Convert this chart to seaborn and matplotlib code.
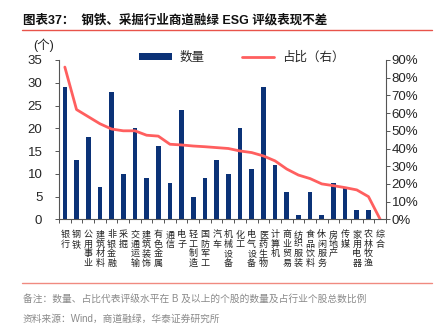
import numpy as np
import pandas as pd
import matplotlib
matplotlib.use("Agg")
import matplotlib.pyplot as plt
import matplotlib.transforms as mtransforms
import seaborn as sns
from matplotlib.patches import Patch
from matplotlib.lines import Line2D
from matplotlib.ticker import PercentFormatter

sns.set_theme(style="white")
plt.rcParams['font.family'] = ['Liberation Sans', 'Noto Sans CJK SC', 'DejaVu Sans']

categories = ["银行", "钢铁", "公用事业", "建筑材料", "非银金融", "采掘", "交通运输",
              "建筑装饰", "有色金属", "通信", "电子", "轻工制造", "国防军工", "汽车",
              "机械设备", "化工", "电气设备", "医药生物", "计算机", "商业贸易",
              "纺织服装", "食品饮料", "休闲服务", "房地产", "传媒", "家用电器",
              "农林牧渔", "综合"]
counts = [29, 13, 18, 7, 28, 10, 20, 9, 16, 8, 24, 5, 9, 13,
          10, 20, 11, 29, 12, 6, 1, 6, 1, 8, 7, 2, 2, 0]
ratios = [0.86, 0.62, 0.58, 0.54, 0.51, 0.50, 0.50, 0.475, 0.47, 0.424, 0.42, 0.414,
          0.41, 0.405, 0.40, 0.386, 0.377, 0.358, 0.33, 0.284, 0.25, 0.23, 0.20,
          0.19, 0.179, 0.166, 0.128, 0.0]
left_ticks = [0, 5, 10, 15, 20, 25, 30, 35]
right_ticks = [0, 0.1, 0.2, 0.3, 0.4, 0.5, 0.6, 0.7, 0.8, 0.9]

BAR = "#0b3277"
LINE = "#ff5f5f"
AXC = "#555555"

df = pd.DataFrame({"行业": categories, "数量": counts, "占比": ratios,
                   "pos": np.arange(len(categories))})

fig = plt.figure(figsize=(4.39, 3.27), dpi=100)
ax = fig.add_axes([59/439, 1-219.3/327, (386-59)/439, (219.3-60)/327])

sns.barplot(data=df, x="pos", y="数量", color=BAR, width=0.4, saturation=1,
            ax=ax, edgecolor="none", native_scale=True)
ax.set_ylim(0, 35)
ax.set_yticks(left_ticks)
ax.set_xlim(-0.5, len(categories)-0.5)
ax.set_xlabel("")
ax.set_ylabel("")

ax2 = ax.twinx()
sns.lineplot(data=df, x="pos", y="占比", color=LINE, linewidth=2, ax=ax2)
ax2.set_ylim(0, 0.9)
ax2.set_yticks(right_ticks)
ax2.yaxis.set_major_formatter(PercentFormatter(1.0, decimals=0))
ax2.set_ylabel("")
ax2.set_xlim(-0.5, len(categories)-0.5)

# category boundary ticks, labels stacked vertically under each category
ax.set_xticks(np.arange(-0.5, len(categories), 1))
ax.set_xticklabels([])
ax.tick_params(axis='x', which='major', length=3, direction='out', color=AXC,
               width=0.7, bottom=True)
trans = mtransforms.blended_transform_factory(ax.transData, ax.transAxes)
for i, name in enumerate(df["行业"]):
    ax.text(df["pos"][i], -0.07, "\n".join(name), transform=trans, ha='center', va='top',
            fontsize=6.5, linespacing=1.05, rotation=0, color="#222222",
            family=['Noto Sans CJK SC'])

ax.tick_params(axis='y', length=3, direction='out', color=AXC, width=0.7, labelsize=9.5, pad=9, left=True)
ax2.tick_params(axis='y', length=3, direction='out', color=AXC, width=0.7, labelsize=9.5, pad=1, right=True)

for a in (ax, ax2):
    a.spines['top'].set_visible(False)
    for s in ('left', 'right', 'bottom'):
        a.spines[s].set_color(AXC)
        a.spines[s].set_linewidth(0.8)
ax.spines['right'].set_visible(False)
ax2.spines['left'].set_visible(False)
ax2.spines['bottom'].set_visible(False)
ax.grid(False)
ax2.grid(False)

handles = [Patch(facecolor=BAR, edgecolor='none'), Line2D([], [], color=LINE, linewidth=2)]
leg = fig.legend(handles, ["数量", "占比（右）"], ncol=2, frameon=False,
                 loc='center left', bbox_to_anchor=(128/439, 1-58/327),
                 fontsize=9, handlelength=2.6, handleheight=0.5, columnspacing=3.0,
                 handletextpad=0.6)

fig.text(33/439, 1-45/327, "(个)", fontsize=9, va='center', ha='left', color="#222222")

fig.text(23/439, 1-20/327, "图表37：  钢铁、采掘行业商道融绿 ESG 评级表现不差",
         fontsize=9, fontweight='bold', va='center', ha='left', color="#111111")
fig.add_artist(Line2D([22/439, 432/439], [1-30/327, 1-30/327], color="#e8534a", linewidth=1.0))
fig.add_artist(Line2D([22/439, 432/439], [1-283/327, 1-283/327], color="#f08a80", linewidth=1.0))

fig.text(23/439, 1-299/327, "备注：数量、占比代表评级水平在 B 及以上的个股的数量及占行业个股总数比例",
         fontsize=7, color="#8a8a8a", va='center', ha='left')
fig.text(23/439, 1-319/327, "资料来源：Wind，商道融绿，华泰证券研究所",
         fontsize=7, color="#8a8a8a", va='center', ha='left')

fig.savefig("out.png", dpi=100)
